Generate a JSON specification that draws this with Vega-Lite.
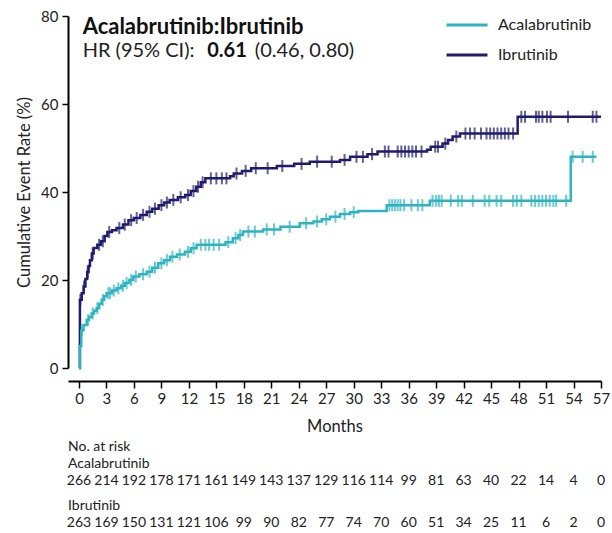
{
  "$schema": "https://vega.github.io/schema/vega-lite/v6.json",
  "padding": {"left": 16, "top": 3, "right": 6, "bottom": 0},
  "autosize": {"type": "pad"},
  "spacing": 4,
  "config": {
    "font": "Lato",
    "view": {"stroke": null},
    "axis": {"domainColor": "#000", "domainWidth": 2, "tickColor": "#000", "tickWidth": 1.5, "labelFontSize": 15, "labelColor": "#222", "titleFontSize": 16.5, "titleFontWeight": "normal", "titleColor": "#222", "grid": false},
    "title": {"font": "Lato"}
  },
  "datasets": {
    "km": [
      {"group": "Ibrutinib", "month": 0, "rate": 0, "censored": false},
      {"group": "Ibrutinib", "month": 0.1, "rate": 15.5, "censored": false},
      {"group": "Ibrutinib", "month": 0.3, "rate": 17.0, "censored": false},
      {"group": "Ibrutinib", "month": 0.5, "rate": 18.5, "censored": false},
      {"group": "Ibrutinib", "month": 0.7, "rate": 20.2, "censored": false},
      {"group": "Ibrutinib", "month": 0.9, "rate": 21.8, "censored": false},
      {"group": "Ibrutinib", "month": 1.05, "rate": 23.2, "censored": false},
      {"group": "Ibrutinib", "month": 1.2, "rate": 24.5, "censored": false},
      {"group": "Ibrutinib", "month": 1.4, "rate": 26.0, "censored": false},
      {"group": "Ibrutinib", "month": 1.6, "rate": 27.3, "censored": false},
      {"group": "Ibrutinib", "month": 2.0, "rate": 28.0, "censored": false},
      {"group": "Ibrutinib", "month": 2.4, "rate": 28.8, "censored": false},
      {"group": "Ibrutinib", "month": 2.8, "rate": 30.0, "censored": false},
      {"group": "Ibrutinib", "month": 3.1, "rate": 30.9, "censored": false},
      {"group": "Ibrutinib", "month": 3.6, "rate": 31.3, "censored": false},
      {"group": "Ibrutinib", "month": 4.1, "rate": 31.8, "censored": false},
      {"group": "Ibrutinib", "month": 4.8, "rate": 32.6, "censored": false},
      {"group": "Ibrutinib", "month": 5.4, "rate": 33.6, "censored": false},
      {"group": "Ibrutinib", "month": 6.0, "rate": 34.1, "censored": false},
      {"group": "Ibrutinib", "month": 6.7, "rate": 34.8, "censored": false},
      {"group": "Ibrutinib", "month": 7.4, "rate": 35.5, "censored": false},
      {"group": "Ibrutinib", "month": 8.0, "rate": 36.2, "censored": false},
      {"group": "Ibrutinib", "month": 8.7, "rate": 37.0, "censored": false},
      {"group": "Ibrutinib", "month": 9.3, "rate": 37.6, "censored": false},
      {"group": "Ibrutinib", "month": 9.9, "rate": 38.2, "censored": false},
      {"group": "Ibrutinib", "month": 10.8, "rate": 38.8, "censored": false},
      {"group": "Ibrutinib", "month": 11.6, "rate": 39.3, "censored": false},
      {"group": "Ibrutinib", "month": 12.2, "rate": 40.2, "censored": false},
      {"group": "Ibrutinib", "month": 12.8, "rate": 41.2, "censored": false},
      {"group": "Ibrutinib", "month": 13.3, "rate": 42.2, "censored": false},
      {"group": "Ibrutinib", "month": 13.8, "rate": 43.1, "censored": false},
      {"group": "Ibrutinib", "month": 16.5, "rate": 43.6, "censored": false},
      {"group": "Ibrutinib", "month": 16.9, "rate": 44.2, "censored": false},
      {"group": "Ibrutinib", "month": 17.8, "rate": 44.8, "censored": false},
      {"group": "Ibrutinib", "month": 18.8, "rate": 45.4, "censored": false},
      {"group": "Ibrutinib", "month": 21.6, "rate": 45.9, "censored": false},
      {"group": "Ibrutinib", "month": 23.5, "rate": 46.4, "censored": false},
      {"group": "Ibrutinib", "month": 25.2, "rate": 46.9, "censored": false},
      {"group": "Ibrutinib", "month": 28.5, "rate": 47.3, "censored": false},
      {"group": "Ibrutinib", "month": 29.6, "rate": 48.0, "censored": false},
      {"group": "Ibrutinib", "month": 31.5, "rate": 48.6, "censored": false},
      {"group": "Ibrutinib", "month": 32.6, "rate": 49.2, "censored": false},
      {"group": "Ibrutinib", "month": 38.0, "rate": 49.6, "censored": false},
      {"group": "Ibrutinib", "month": 38.4, "rate": 50.3, "censored": false},
      {"group": "Ibrutinib", "month": 39.7, "rate": 51.0, "censored": false},
      {"group": "Ibrutinib", "month": 40.3, "rate": 51.8, "censored": false},
      {"group": "Ibrutinib", "month": 40.8, "rate": 52.6, "censored": false},
      {"group": "Ibrutinib", "month": 41.6, "rate": 53.3, "censored": false},
      {"group": "Ibrutinib", "month": 47.9, "rate": 57.1, "censored": false},
      {"group": "Ibrutinib", "month": 57.0, "rate": 57.1, "censored": false},
      {"group": "Ibrutinib", "month": 0.15, "rate": 15.5, "censored": true},
      {"group": "Ibrutinib", "month": 0.55, "rate": 18.5, "censored": true},
      {"group": "Ibrutinib", "month": 0.95, "rate": 21.8, "censored": true},
      {"group": "Ibrutinib", "month": 1.5, "rate": 26.0, "censored": true},
      {"group": "Ibrutinib", "month": 2.2, "rate": 28.0, "censored": true},
      {"group": "Ibrutinib", "month": 2.6, "rate": 28.8, "censored": true},
      {"group": "Ibrutinib", "month": 3.3, "rate": 30.9, "censored": true},
      {"group": "Ibrutinib", "month": 4.4, "rate": 31.8, "censored": true},
      {"group": "Ibrutinib", "month": 5.0, "rate": 32.6, "censored": true},
      {"group": "Ibrutinib", "month": 5.7, "rate": 33.6, "censored": true},
      {"group": "Ibrutinib", "month": 6.3, "rate": 34.1, "censored": true},
      {"group": "Ibrutinib", "month": 7.0, "rate": 34.8, "censored": true},
      {"group": "Ibrutinib", "month": 7.7, "rate": 35.5, "censored": true},
      {"group": "Ibrutinib", "month": 8.3, "rate": 36.2, "censored": true},
      {"group": "Ibrutinib", "month": 9.0, "rate": 37.0, "censored": true},
      {"group": "Ibrutinib", "month": 9.6, "rate": 37.6, "censored": true},
      {"group": "Ibrutinib", "month": 10.3, "rate": 38.2, "censored": true},
      {"group": "Ibrutinib", "month": 11.1, "rate": 38.8, "censored": true},
      {"group": "Ibrutinib", "month": 11.9, "rate": 39.3, "censored": true},
      {"group": "Ibrutinib", "month": 12.5, "rate": 40.2, "censored": true},
      {"group": "Ibrutinib", "month": 13.0, "rate": 41.2, "censored": true},
      {"group": "Ibrutinib", "month": 13.5, "rate": 42.2, "censored": true},
      {"group": "Ibrutinib", "month": 14.4, "rate": 43.1, "censored": true},
      {"group": "Ibrutinib", "month": 15.0, "rate": 43.1, "censored": true},
      {"group": "Ibrutinib", "month": 15.6, "rate": 43.1, "censored": true},
      {"group": "Ibrutinib", "month": 16.1, "rate": 43.1, "censored": true},
      {"group": "Ibrutinib", "month": 17.2, "rate": 44.2, "censored": true},
      {"group": "Ibrutinib", "month": 18.2, "rate": 44.8, "censored": true},
      {"group": "Ibrutinib", "month": 19.3, "rate": 45.4, "censored": true},
      {"group": "Ibrutinib", "month": 20.6, "rate": 45.4, "censored": true},
      {"group": "Ibrutinib", "month": 22.2, "rate": 45.9, "censored": true},
      {"group": "Ibrutinib", "month": 24.3, "rate": 46.4, "censored": true},
      {"group": "Ibrutinib", "month": 26.0, "rate": 46.9, "censored": true},
      {"group": "Ibrutinib", "month": 27.6, "rate": 46.9, "censored": true},
      {"group": "Ibrutinib", "month": 29.0, "rate": 47.3, "censored": true},
      {"group": "Ibrutinib", "month": 30.3, "rate": 48.0, "censored": true},
      {"group": "Ibrutinib", "month": 31.0, "rate": 48.0, "censored": true},
      {"group": "Ibrutinib", "month": 32.0, "rate": 48.6, "censored": true},
      {"group": "Ibrutinib", "month": 33.4, "rate": 49.2, "censored": true},
      {"group": "Ibrutinib", "month": 33.8, "rate": 49.2, "censored": true},
      {"group": "Ibrutinib", "month": 34.8, "rate": 49.2, "censored": true},
      {"group": "Ibrutinib", "month": 35.2, "rate": 49.2, "censored": true},
      {"group": "Ibrutinib", "month": 35.6, "rate": 49.2, "censored": true},
      {"group": "Ibrutinib", "month": 36.0, "rate": 49.2, "censored": true},
      {"group": "Ibrutinib", "month": 36.4, "rate": 49.2, "censored": true},
      {"group": "Ibrutinib", "month": 36.8, "rate": 49.2, "censored": true},
      {"group": "Ibrutinib", "month": 37.4, "rate": 49.2, "censored": true},
      {"group": "Ibrutinib", "month": 38.9, "rate": 50.3, "censored": true},
      {"group": "Ibrutinib", "month": 39.2, "rate": 50.3, "censored": true},
      {"group": "Ibrutinib", "month": 40.0, "rate": 51.0, "censored": true},
      {"group": "Ibrutinib", "month": 41.2, "rate": 52.6, "censored": true},
      {"group": "Ibrutinib", "month": 42.2, "rate": 53.3, "censored": true},
      {"group": "Ibrutinib", "month": 42.7, "rate": 53.3, "censored": true},
      {"group": "Ibrutinib", "month": 43.2, "rate": 53.3, "censored": true},
      {"group": "Ibrutinib", "month": 43.9, "rate": 53.3, "censored": true},
      {"group": "Ibrutinib", "month": 44.5, "rate": 53.3, "censored": true},
      {"group": "Ibrutinib", "month": 44.9, "rate": 53.3, "censored": true},
      {"group": "Ibrutinib", "month": 45.3, "rate": 53.3, "censored": true},
      {"group": "Ibrutinib", "month": 45.7, "rate": 53.3, "censored": true},
      {"group": "Ibrutinib", "month": 46.1, "rate": 53.3, "censored": true},
      {"group": "Ibrutinib", "month": 46.5, "rate": 53.3, "censored": true},
      {"group": "Ibrutinib", "month": 46.9, "rate": 53.3, "censored": true},
      {"group": "Ibrutinib", "month": 47.4, "rate": 53.3, "censored": true},
      {"group": "Ibrutinib", "month": 48.3, "rate": 57.1, "censored": true},
      {"group": "Ibrutinib", "month": 48.7, "rate": 57.1, "censored": true},
      {"group": "Ibrutinib", "month": 49.9, "rate": 57.1, "censored": true},
      {"group": "Ibrutinib", "month": 50.2, "rate": 57.1, "censored": true},
      {"group": "Ibrutinib", "month": 50.6, "rate": 57.1, "censored": true},
      {"group": "Ibrutinib", "month": 51.1, "rate": 57.1, "censored": true},
      {"group": "Ibrutinib", "month": 51.5, "rate": 57.1, "censored": true},
      {"group": "Ibrutinib", "month": 53.4, "rate": 57.1, "censored": true},
      {"group": "Ibrutinib", "month": 56.1, "rate": 57.1, "censored": true},
      {"group": "Ibrutinib", "month": 56.5, "rate": 57.1, "censored": true},
      {"group": "Acalabrutinib", "month": 0, "rate": 0, "censored": false},
      {"group": "Acalabrutinib", "month": 0.1, "rate": 5.0, "censored": false},
      {"group": "Acalabrutinib", "month": 0.25, "rate": 8.6, "censored": false},
      {"group": "Acalabrutinib", "month": 0.5, "rate": 9.8, "censored": false},
      {"group": "Acalabrutinib", "month": 0.84, "rate": 10.9, "censored": false},
      {"group": "Acalabrutinib", "month": 1.1, "rate": 11.6, "censored": false},
      {"group": "Acalabrutinib", "month": 1.39, "rate": 12.4, "censored": false},
      {"group": "Acalabrutinib", "month": 1.65, "rate": 13.0, "censored": false},
      {"group": "Acalabrutinib", "month": 1.93, "rate": 13.6, "censored": false},
      {"group": "Acalabrutinib", "month": 2.2, "rate": 14.6, "censored": false},
      {"group": "Acalabrutinib", "month": 2.48, "rate": 15.5, "censored": false},
      {"group": "Acalabrutinib", "month": 2.75, "rate": 16.3, "censored": false},
      {"group": "Acalabrutinib", "month": 3.02, "rate": 17.0, "censored": false},
      {"group": "Acalabrutinib", "month": 3.6, "rate": 17.6, "censored": false},
      {"group": "Acalabrutinib", "month": 4.11, "rate": 18.1, "censored": false},
      {"group": "Acalabrutinib", "month": 4.6, "rate": 18.7, "censored": false},
      {"group": "Acalabrutinib", "month": 5.02, "rate": 19.3, "censored": false},
      {"group": "Acalabrutinib", "month": 5.5, "rate": 20.0, "censored": false},
      {"group": "Acalabrutinib", "month": 5.92, "rate": 20.8, "censored": false},
      {"group": "Acalabrutinib", "month": 6.6, "rate": 21.3, "censored": false},
      {"group": "Acalabrutinib", "month": 7.39, "rate": 21.9, "censored": false},
      {"group": "Acalabrutinib", "month": 8.0, "rate": 22.8, "censored": false},
      {"group": "Acalabrutinib", "month": 8.65, "rate": 23.8, "censored": false},
      {"group": "Acalabrutinib", "month": 9.3, "rate": 24.5, "censored": false},
      {"group": "Acalabrutinib", "month": 9.93, "rate": 25.3, "censored": false},
      {"group": "Acalabrutinib", "month": 10.7, "rate": 25.8, "censored": false},
      {"group": "Acalabrutinib", "month": 11.56, "rate": 26.4, "censored": false},
      {"group": "Acalabrutinib", "month": 12.2, "rate": 27.2, "censored": false},
      {"group": "Acalabrutinib", "month": 12.84, "rate": 28.0, "censored": false},
      {"group": "Acalabrutinib", "month": 16.0, "rate": 28.6, "censored": false},
      {"group": "Acalabrutinib", "month": 16.8, "rate": 29.5, "censored": false},
      {"group": "Acalabrutinib", "month": 17.4, "rate": 30.2, "censored": false},
      {"group": "Acalabrutinib", "month": 17.9, "rate": 31.0, "censored": false},
      {"group": "Acalabrutinib", "month": 20.1, "rate": 31.5, "censored": false},
      {"group": "Acalabrutinib", "month": 22.0, "rate": 32.1, "censored": false},
      {"group": "Acalabrutinib", "month": 24.1, "rate": 32.9, "censored": false},
      {"group": "Acalabrutinib", "month": 25.6, "rate": 33.3, "censored": false},
      {"group": "Acalabrutinib", "month": 26.5, "rate": 33.8, "censored": false},
      {"group": "Acalabrutinib", "month": 27.4, "rate": 34.4, "censored": false},
      {"group": "Acalabrutinib", "month": 28.5, "rate": 35.0, "censored": false},
      {"group": "Acalabrutinib", "month": 29.6, "rate": 35.4, "censored": false},
      {"group": "Acalabrutinib", "month": 30.5, "rate": 35.7, "censored": false},
      {"group": "Acalabrutinib", "month": 33.6, "rate": 37.0, "censored": false},
      {"group": "Acalabrutinib", "month": 38.3, "rate": 38.0, "censored": false},
      {"group": "Acalabrutinib", "month": 53.7, "rate": 48.0, "censored": false},
      {"group": "Acalabrutinib", "month": 56.5, "rate": 48.0, "censored": false},
      {"group": "Acalabrutinib", "month": 0.3, "rate": 8.6, "censored": true},
      {"group": "Acalabrutinib", "month": 1.0, "rate": 10.9, "censored": true},
      {"group": "Acalabrutinib", "month": 1.5, "rate": 12.4, "censored": true},
      {"group": "Acalabrutinib", "month": 2.0, "rate": 13.6, "censored": true},
      {"group": "Acalabrutinib", "month": 2.6, "rate": 15.5, "censored": true},
      {"group": "Acalabrutinib", "month": 3.2, "rate": 17.0, "censored": true},
      {"group": "Acalabrutinib", "month": 3.4, "rate": 17.0, "censored": true},
      {"group": "Acalabrutinib", "month": 3.8, "rate": 17.6, "censored": true},
      {"group": "Acalabrutinib", "month": 4.3, "rate": 18.1, "censored": true},
      {"group": "Acalabrutinib", "month": 4.8, "rate": 18.7, "censored": true},
      {"group": "Acalabrutinib", "month": 5.2, "rate": 19.3, "censored": true},
      {"group": "Acalabrutinib", "month": 5.7, "rate": 20.0, "censored": true},
      {"group": "Acalabrutinib", "month": 6.2, "rate": 20.8, "censored": true},
      {"group": "Acalabrutinib", "month": 7.0, "rate": 21.3, "censored": true},
      {"group": "Acalabrutinib", "month": 7.7, "rate": 21.9, "censored": true},
      {"group": "Acalabrutinib", "month": 8.3, "rate": 22.8, "censored": true},
      {"group": "Acalabrutinib", "month": 9.0, "rate": 23.8, "censored": true},
      {"group": "Acalabrutinib", "month": 9.6, "rate": 24.5, "censored": true},
      {"group": "Acalabrutinib", "month": 10.2, "rate": 25.3, "censored": true},
      {"group": "Acalabrutinib", "month": 11.0, "rate": 25.8, "censored": true},
      {"group": "Acalabrutinib", "month": 11.9, "rate": 26.4, "censored": true},
      {"group": "Acalabrutinib", "month": 12.5, "rate": 27.2, "censored": true},
      {"group": "Acalabrutinib", "month": 13.3, "rate": 28.0, "censored": true},
      {"group": "Acalabrutinib", "month": 13.8, "rate": 28.0, "censored": true},
      {"group": "Acalabrutinib", "month": 14.2, "rate": 28.0, "censored": true},
      {"group": "Acalabrutinib", "month": 14.7, "rate": 28.0, "censored": true},
      {"group": "Acalabrutinib", "month": 15.3, "rate": 28.0, "censored": true},
      {"group": "Acalabrutinib", "month": 16.3, "rate": 28.6, "censored": true},
      {"group": "Acalabrutinib", "month": 17.1, "rate": 29.5, "censored": true},
      {"group": "Acalabrutinib", "month": 17.6, "rate": 30.2, "censored": true},
      {"group": "Acalabrutinib", "month": 18.5, "rate": 31.0, "censored": true},
      {"group": "Acalabrutinib", "month": 19.2, "rate": 31.0, "censored": true},
      {"group": "Acalabrutinib", "month": 20.5, "rate": 31.5, "censored": true},
      {"group": "Acalabrutinib", "month": 21.3, "rate": 31.5, "censored": true},
      {"group": "Acalabrutinib", "month": 23.0, "rate": 32.1, "censored": true},
      {"group": "Acalabrutinib", "month": 24.8, "rate": 32.9, "censored": true},
      {"group": "Acalabrutinib", "month": 26.0, "rate": 33.3, "censored": true},
      {"group": "Acalabrutinib", "month": 27.0, "rate": 33.8, "censored": true},
      {"group": "Acalabrutinib", "month": 28.0, "rate": 34.4, "censored": true},
      {"group": "Acalabrutinib", "month": 29.0, "rate": 35.0, "censored": true},
      {"group": "Acalabrutinib", "month": 30.0, "rate": 35.4, "censored": true},
      {"group": "Acalabrutinib", "month": 33.9, "rate": 37.0, "censored": true},
      {"group": "Acalabrutinib", "month": 34.2, "rate": 37.0, "censored": true},
      {"group": "Acalabrutinib", "month": 34.5, "rate": 37.0, "censored": true},
      {"group": "Acalabrutinib", "month": 34.8, "rate": 37.0, "censored": true},
      {"group": "Acalabrutinib", "month": 35.1, "rate": 37.0, "censored": true},
      {"group": "Acalabrutinib", "month": 35.5, "rate": 37.0, "censored": true},
      {"group": "Acalabrutinib", "month": 36.3, "rate": 37.0, "censored": true},
      {"group": "Acalabrutinib", "month": 37.0, "rate": 37.0, "censored": true},
      {"group": "Acalabrutinib", "month": 37.5, "rate": 37.0, "censored": true},
      {"group": "Acalabrutinib", "month": 38.6, "rate": 38.0, "censored": true},
      {"group": "Acalabrutinib", "month": 39.0, "rate": 38.0, "censored": true},
      {"group": "Acalabrutinib", "month": 39.3, "rate": 38.0, "censored": true},
      {"group": "Acalabrutinib", "month": 39.6, "rate": 38.0, "censored": true},
      {"group": "Acalabrutinib", "month": 40.6, "rate": 38.0, "censored": true},
      {"group": "Acalabrutinib", "month": 41.4, "rate": 38.0, "censored": true},
      {"group": "Acalabrutinib", "month": 41.8, "rate": 38.0, "censored": true},
      {"group": "Acalabrutinib", "month": 43.0, "rate": 38.0, "censored": true},
      {"group": "Acalabrutinib", "month": 44.3, "rate": 38.0, "censored": true},
      {"group": "Acalabrutinib", "month": 44.8, "rate": 38.0, "censored": true},
      {"group": "Acalabrutinib", "month": 45.6, "rate": 38.0, "censored": true},
      {"group": "Acalabrutinib", "month": 46.1, "rate": 38.0, "censored": true},
      {"group": "Acalabrutinib", "month": 47.4, "rate": 38.0, "censored": true},
      {"group": "Acalabrutinib", "month": 47.8, "rate": 38.0, "censored": true},
      {"group": "Acalabrutinib", "month": 48.3, "rate": 38.0, "censored": true},
      {"group": "Acalabrutinib", "month": 49.4, "rate": 38.0, "censored": true},
      {"group": "Acalabrutinib", "month": 49.8, "rate": 38.0, "censored": true},
      {"group": "Acalabrutinib", "month": 50.2, "rate": 38.0, "censored": true},
      {"group": "Acalabrutinib", "month": 50.6, "rate": 38.0, "censored": true},
      {"group": "Acalabrutinib", "month": 51.0, "rate": 38.0, "censored": true},
      {"group": "Acalabrutinib", "month": 51.4, "rate": 38.0, "censored": true},
      {"group": "Acalabrutinib", "month": 51.8, "rate": 38.0, "censored": true},
      {"group": "Acalabrutinib", "month": 52.1, "rate": 38.0, "censored": true},
      {"group": "Acalabrutinib", "month": 53.2, "rate": 38.0, "censored": true},
      {"group": "Acalabrutinib", "month": 53.9, "rate": 48.0, "censored": true},
      {"group": "Acalabrutinib", "month": 55.0, "rate": 48.0, "censored": true},
      {"group": "Acalabrutinib", "month": 56.1, "rate": 48.0, "censored": true}
    ],
    "risk": [
      {"group": "Acalabrutinib", "month": 0, "n": 266}, {"group": "Acalabrutinib", "month": 3, "n": 214},
      {"group": "Acalabrutinib", "month": 6, "n": 192}, {"group": "Acalabrutinib", "month": 9, "n": 178},
      {"group": "Acalabrutinib", "month": 12, "n": 171}, {"group": "Acalabrutinib", "month": 15, "n": 161},
      {"group": "Acalabrutinib", "month": 18, "n": 149}, {"group": "Acalabrutinib", "month": 21, "n": 143},
      {"group": "Acalabrutinib", "month": 24, "n": 137}, {"group": "Acalabrutinib", "month": 27, "n": 129},
      {"group": "Acalabrutinib", "month": 30, "n": 116}, {"group": "Acalabrutinib", "month": 33, "n": 114},
      {"group": "Acalabrutinib", "month": 36, "n": 99}, {"group": "Acalabrutinib", "month": 39, "n": 81},
      {"group": "Acalabrutinib", "month": 42, "n": 63}, {"group": "Acalabrutinib", "month": 45, "n": 40},
      {"group": "Acalabrutinib", "month": 48, "n": 22}, {"group": "Acalabrutinib", "month": 51, "n": 14},
      {"group": "Acalabrutinib", "month": 54, "n": 4}, {"group": "Acalabrutinib", "month": 57, "n": 0},
      {"group": "Ibrutinib", "month": 0, "n": 263}, {"group": "Ibrutinib", "month": 3, "n": 169},
      {"group": "Ibrutinib", "month": 6, "n": 150}, {"group": "Ibrutinib", "month": 9, "n": 131},
      {"group": "Ibrutinib", "month": 12, "n": 121}, {"group": "Ibrutinib", "month": 15, "n": 106},
      {"group": "Ibrutinib", "month": 18, "n": 99}, {"group": "Ibrutinib", "month": 21, "n": 90},
      {"group": "Ibrutinib", "month": 24, "n": 82}, {"group": "Ibrutinib", "month": 27, "n": 77},
      {"group": "Ibrutinib", "month": 30, "n": 74}, {"group": "Ibrutinib", "month": 33, "n": 70},
      {"group": "Ibrutinib", "month": 36, "n": 60}, {"group": "Ibrutinib", "month": 39, "n": 51},
      {"group": "Ibrutinib", "month": 42, "n": 34}, {"group": "Ibrutinib", "month": 45, "n": 25},
      {"group": "Ibrutinib", "month": 48, "n": 11}, {"group": "Ibrutinib", "month": 51, "n": 6},
      {"group": "Ibrutinib", "month": 54, "n": 2}, {"group": "Ibrutinib", "month": 57, "n": 0}
    ]
  },
  "vconcat": [
    {
      "width": 533,
      "height": 352,
      "data": {"name": "km"},
      "layer": [
        {
          "mark": {"type": "line", "interpolate": "step-after", "strokeWidth": 2.5},
          "encoding": {
            "x": {"field": "month", "type": "quantitative",
              "scale": {"domain": [-1.2, 57], "nice": false, "zero": false},
              "axis": {"values": [0, 3, 6, 9, 12, 15, 18, 21, 24, 27, 30, 33, 36, 39, 42, 45, 48, 51, 54, 57], "tickCount": 30, "title": "Months", "offset": 13, "tickSize": 7, "labelPadding": 3, "titlePadding": 12, "labelFlush": false, "labelOverlap": false}},
            "y": {"field": "rate", "type": "quantitative",
              "scale": {"domain": [0, 80], "nice": false},
              "axis": {"values": [0, 20, 40, 60, 80], "title": "Cumulative Event Rate (%)", "tickSize": 6, "labelPadding": 4, "titlePadding": 8}},
            "color": {"field": "group", "type": "nominal",
              "scale": {"domain": ["Acalabrutinib", "Ibrutinib"], "range": ["#2DB4C1", "#1F1C6E"]},
              "legend": {"orient": "none", "legendX": 377, "legendY": -13, "title": null, "symbolType": "stroke", "symbolSize": 1681, "symbolStrokeWidth": 3, "labelFontSize": 16, "labelColor": "#222", "labelOffset": 9, "rowPadding": -27}}
          }
        },
        {
          "transform": [{"filter": "datum.censored"}],
          "mark": {"type": "tick", "orient": "vertical", "size": 12, "thickness": 2},
          "encoding": {
            "x": {"field": "month", "type": "quantitative"},
            "y": {"field": "rate", "type": "quantitative"},
            "color": {"field": "group", "type": "nominal", "legend": null}
          }
        },
        {
          "data": {"values": [{}]},
          "mark": {"type": "text", "align": "left", "baseline": "middle", "fontSize": 22, "fontWeight": "bold", "color": "#111", "text": "Acalabrutinib:Ibrutinib"},
          "encoding": {"x": {"datum": 0.4}, "y": {"datum": 77.4}}
        },
        {
          "data": {"values": [{}]},
          "mark": {"type": "text", "align": "left", "baseline": "middle", "fontSize": 20, "color": "#222", "text": "HR (95% CI):"},
          "encoding": {"x": {"datum": 0.4}, "y": {"datum": 72.0}}
        },
        {
          "data": {"values": [{}]},
          "mark": {"type": "text", "align": "left", "baseline": "middle", "fontSize": 20, "fontWeight": "bold", "color": "#111", "text": "0.61"},
          "encoding": {"x": {"datum": 14.0}, "y": {"datum": 72.0}}
        },
        {
          "data": {"values": [{}]},
          "mark": {"type": "text", "align": "left", "baseline": "middle", "fontSize": 20, "color": "#222", "text": "(0.46, 0.80)"},
          "encoding": {"x": {"datum": 19.2}, "y": {"datum": 72.0}}
        }
      ]
    },
    {
      "width": 533,
      "height": 21,
      "title": {"text": ["No. at risk", "Acalabrutinib"], "anchor": "start", "frame": "group", "fontSize": 14, "fontWeight": "normal", "lineHeight": 17.5, "offset": 3, "color": "#222"},
      "data": {"name": "risk"},
      "transform": [{"filter": "datum.group === 'Acalabrutinib'"}],
      "mark": {"type": "text", "fontSize": 14, "color": "#222", "dy": -3.5},
      "encoding": {
        "x": {"field": "month", "type": "quantitative", "scale": {"domain": [-1.2, 57], "nice": false, "zero": false}, "axis": null},
        "text": {"field": "n", "type": "quantitative"}
      }
    },
    {
      "width": 533,
      "height": 14,
      "title": {"text": "Ibrutinib", "anchor": "start", "frame": "group", "fontSize": 14, "fontWeight": "normal", "offset": 3, "color": "#222"},
      "data": {"name": "risk"},
      "transform": [{"filter": "datum.group === 'Ibrutinib'"}],
      "mark": {"type": "text", "fontSize": 14, "color": "#222"},
      "encoding": {
        "x": {"field": "month", "type": "quantitative", "scale": {"domain": [-1.2, 57], "nice": false, "zero": false}, "axis": null},
        "text": {"field": "n", "type": "quantitative"}
      }
    }
  ]
}
